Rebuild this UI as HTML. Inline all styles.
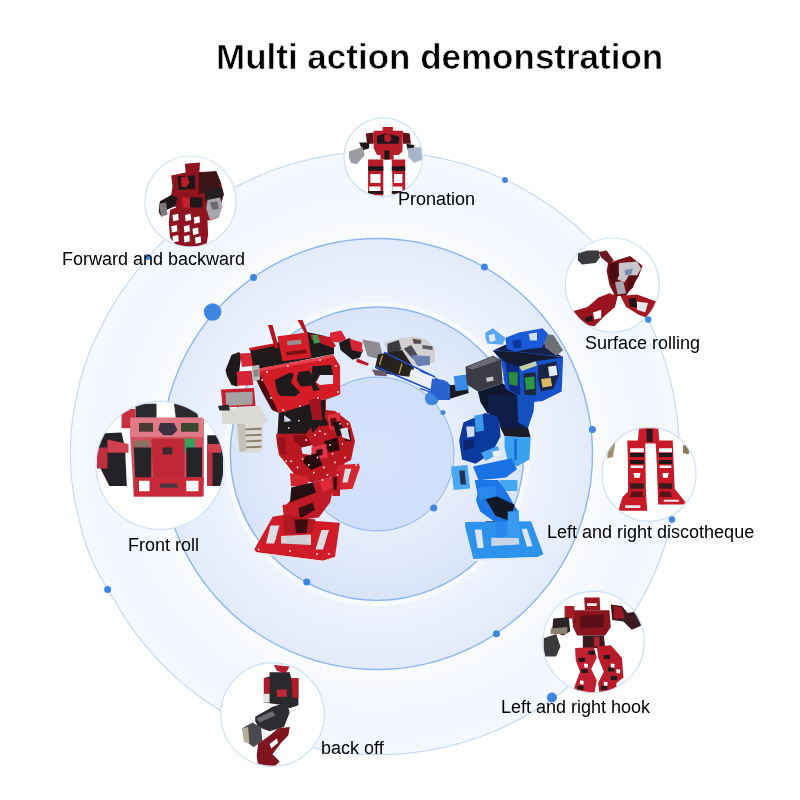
<!DOCTYPE html>
<html><head><meta charset="utf-8">
<style>
html,body{margin:0;padding:0;background:#fff;}
body{width:800px;height:800px;position:relative;overflow:hidden;font-family:"Liberation Sans",sans-serif;}
.t{position:absolute;will-change:transform;white-space:nowrap;color:#000;font-size:18px;line-height:1;}
#title{position:absolute;will-change:transform;-webkit-text-stroke:0.6px #fff;left:216px;top:39px;font-size:35px;font-weight:700;white-space:nowrap;line-height:1;color:#000;}
svg{position:absolute;left:0;top:0;}
</style></head><body>
<svg width="800" height="800" viewBox="0 0 800 800">
<defs>
<radialGradient id="g0" cx="377.65" cy="453.1" r="301.6" gradientUnits="userSpaceOnUse">
<stop offset="0.71" stop-color="#fbfcff"/><stop offset="0.80" stop-color="#f4f7fe"/><stop offset="0.92" stop-color="#f2f6fd"/><stop offset="1" stop-color="#f5f8fe"/>
</radialGradient>
<radialGradient id="g2" cx="377" cy="454" r="215" gradientUnits="userSpaceOnUse">
<stop offset="0.68" stop-color="#eff4fd"/><stop offset="1" stop-color="#e3ebfb"/>
</radialGradient>
<radialGradient id="g3" cx="377" cy="454" r="146" gradientUnits="userSpaceOnUse">
<stop offset="0.53" stop-color="#e6eefb"/><stop offset="1" stop-color="#d9e4fa"/>
</radialGradient>
<radialGradient id="g4" cx="377" cy="454" r="78" gradientUnits="userSpaceOnUse">
<stop offset="0" stop-color="#d6e3fb"/><stop offset="1" stop-color="#d0dffa"/>
</radialGradient>
</defs>
<path d="M679.25,453.10 L679.20,458.36 L679.07,463.63 L678.84,468.88 L678.52,474.14 L678.10,479.39 L677.60,484.63 L677.00,489.86 L676.31,495.07 L675.54,500.28 L674.67,505.47 L673.71,510.65 L672.66,515.81 L671.52,520.95 L670.29,526.06 L668.97,531.16 L667.57,536.23 L666.07,541.28 L664.49,546.30 L662.82,551.29 L661.06,556.25 L659.22,561.18 L657.29,566.08 L655.27,570.94 L653.18,575.77 L650.99,580.56 L648.73,585.31 L646.38,590.02 L643.95,594.69 L641.44,599.32 L638.84,603.90 L636.17,608.44 L633.42,612.92 L630.59,617.36 L627.69,621.75 L624.71,626.09 L621.65,630.38 L618.52,634.61 L615.31,638.78 L612.04,642.90 L608.69,646.96 L605.27,650.97 L601.78,654.91 L598.23,658.79 L594.60,662.61 L590.91,666.36 L587.16,670.05 L583.34,673.68 L579.46,677.23 L575.52,680.72 L571.51,684.14 L567.45,687.49 L563.33,690.76 L559.16,693.97 L554.93,697.10 L550.64,700.16 L546.30,703.14 L541.91,706.04 L537.47,708.87 L532.99,711.62 L528.45,714.29 L523.87,716.89 L519.24,719.40 L514.57,721.83 L509.86,724.18 L505.11,726.44 L500.32,728.63 L495.49,730.72 L490.63,732.74 L485.73,734.67 L480.80,736.51 L475.84,738.27 L470.85,739.94 L465.83,741.52 L460.78,743.02 L455.71,744.42 L450.61,745.74 L445.50,746.97 L440.36,748.11 L435.20,749.16 L430.02,750.12 L424.83,750.99 L419.62,751.76 L414.41,752.45 L409.18,753.05 L403.94,753.55 L398.69,753.97 L393.43,754.29 L388.18,754.52 L382.91,754.65 L377.65,754.70 L372.39,754.65 L367.12,754.52 L361.87,754.29 L356.61,753.97 L351.36,753.55 L346.12,753.05 L340.89,752.45 L335.68,751.76 L330.47,750.99 L325.28,750.12 L320.10,749.16 L314.94,748.11 L309.80,746.97 L304.69,745.74 L299.59,744.42 L294.52,743.02 L289.47,741.52 L284.45,739.94 L279.46,738.27 L274.50,736.51 L269.57,734.67 L264.67,732.74 L259.81,730.72 L254.98,728.63 L250.19,726.44 L245.44,724.18 L240.73,721.83 L236.06,719.40 L231.43,716.89 L226.85,714.29 L222.31,711.62 L217.83,708.87 L213.39,706.04 L209.00,703.14 L204.66,700.16 L200.37,697.10 L196.14,693.97 L191.97,690.76 L187.85,687.49 L183.79,684.14 L179.78,680.72 L175.84,677.23 L171.96,673.68 L168.14,670.05 L164.39,666.36 L160.70,662.61 L157.07,658.79 L153.52,654.91 L150.03,650.97 L146.61,646.96 L143.26,642.90 L139.99,638.78 L136.78,634.61 L133.65,630.38 L130.59,626.09 L127.61,621.75 L124.71,617.36 L121.88,612.92 L119.13,608.44 L116.46,603.90 L113.81,599.32 L110.89,594.69 L108.05,590.02 L105.29,585.31 L102.61,580.56 L99.87,575.77 L97.19,570.94 L94.59,566.08 L92.40,561.18 L90.40,556.25 L88.47,551.29 L86.63,546.30 L84.86,541.28 L83.18,536.23 L81.84,531.16 L80.68,526.06 L79.60,520.95 L78.27,515.81 L76.95,510.65 L75.72,505.47 L74.58,500.28 L73.72,495.07 L72.97,489.86 L72.31,484.63 L71.74,479.39 L71.26,474.14 L70.87,468.88 L70.58,463.63 L70.41,458.36 L70.40,453.10 L70.49,447.84 L70.66,442.57 L70.93,437.32 L71.29,432.06 L71.75,426.81 L72.29,421.57 L73.02,416.34 L73.87,411.13 L74.82,405.92 L75.86,400.73 L76.93,395.55 L77.95,390.39 L79.06,385.25 L80.27,380.14 L81.74,375.04 L83.36,369.97 L85.07,364.92 L86.83,359.90 L88.57,354.91 L90.41,349.95 L92.32,345.02 L94.63,340.12 L97.05,335.26 L99.55,330.43 L101.87,325.64 L104.22,320.89 L106.64,316.18 L109.25,311.51 L111.99,306.88 L114.80,302.30 L117.69,297.76 L120.65,293.28 L123.67,288.84 L126.77,284.45 L129.94,280.11 L133.14,275.82 L136.40,271.59 L139.74,267.42 L143.16,263.30 L146.61,259.24 L150.03,255.23 L153.52,251.29 L157.07,247.41 L160.70,243.59 L164.39,239.84 L168.14,236.15 L171.96,232.52 L175.84,228.97 L179.78,225.48 L183.79,222.06 L187.85,218.71 L191.97,215.44 L196.14,212.23 L200.37,209.10 L204.66,206.04 L209.00,203.06 L213.39,200.16 L217.83,197.33 L222.31,194.58 L226.85,191.91 L231.43,189.31 L236.06,186.80 L240.73,184.37 L245.44,182.02 L250.19,179.76 L254.98,177.57 L259.81,175.48 L264.67,173.46 L269.57,171.53 L274.50,169.69 L279.46,167.93 L284.45,166.26 L289.47,164.68 L294.52,163.18 L299.59,161.78 L304.69,160.46 L309.80,159.23 L314.94,158.09 L320.10,157.04 L325.28,156.08 L330.47,155.21 L335.68,154.44 L340.89,153.75 L346.12,153.15 L351.36,152.65 L356.61,152.23 L361.87,151.91 L367.12,151.68 L372.39,151.55 L377.65,151.50 L382.91,151.55 L388.18,151.68 L393.43,151.91 L398.69,152.23 L403.94,152.65 L409.18,153.15 L414.41,153.75 L419.62,154.44 L424.83,155.21 L430.02,156.08 L435.20,157.04 L440.36,158.09 L445.50,159.23 L450.61,160.46 L455.71,161.78 L460.78,163.18 L465.83,164.68 L470.85,166.26 L475.84,167.93 L480.80,169.69 L485.73,171.53 L490.63,173.46 L495.49,175.48 L500.32,177.57 L505.11,179.76 L509.86,182.02 L514.57,184.37 L519.24,186.80 L523.87,189.31 L528.45,191.91 L532.99,194.58 L537.47,197.33 L541.91,200.16 L546.30,203.06 L550.64,206.04 L554.93,209.10 L559.16,212.23 L563.33,215.44 L567.45,218.71 L571.51,222.06 L575.52,225.48 L579.46,228.97 L583.34,232.52 L587.16,236.15 L590.91,239.84 L594.60,243.59 L598.23,247.41 L601.78,251.29 L605.27,255.23 L608.69,259.24 L612.04,263.30 L615.31,267.42 L618.52,271.59 L621.65,275.82 L624.71,280.11 L627.69,284.45 L630.59,288.84 L633.42,293.28 L636.17,297.76 L638.84,302.30 L641.44,306.88 L643.95,311.51 L646.38,316.18 L648.73,320.89 L650.99,325.64 L653.18,330.43 L655.27,335.26 L657.29,340.12 L659.22,345.02 L661.06,349.95 L662.82,354.91 L664.49,359.90 L666.07,364.92 L667.57,369.97 L668.97,375.04 L670.29,380.14 L671.52,385.25 L672.66,390.39 L673.71,395.55 L674.67,400.73 L675.54,405.92 L676.31,411.13 L677.00,416.34 L677.60,421.57 L678.10,426.81 L678.52,432.06 L678.84,437.32 L679.07,442.57 L679.20,447.84Z" fill="url(#g0)" stroke="#c6daf7" stroke-width="1.2"/>
<circle cx="377" cy="454" r="215.5" fill="url(#g2)" stroke="#8cb6f1" stroke-width="1.4"/>
<circle cx="377" cy="453.7" r="150" fill="none" stroke="#ffffff" stroke-width="5" stroke-opacity="0.5"/>
<circle cx="377" cy="453.7" r="146.7" fill="url(#g3)" stroke="#8db6f1" stroke-width="1.4"/>
<circle cx="377" cy="454" r="77" fill="url(#g4)" stroke="#8ab4f0" stroke-width="1"/>
<defs><clipPath id="c1"><circle cx="190.5" cy="201.5" r="45.0"/></clipPath><clipPath id="c2"><circle cx="383.25" cy="157.25" r="38.8"/></clipPath><clipPath id="c3"><circle cx="612.25" cy="285" r="46.5"/></clipPath><clipPath id="c4"><circle cx="649" cy="474.3" r="46.5"/></clipPath><clipPath id="c5"><circle cx="593.6" cy="642" r="50.2"/></clipPath><clipPath id="c6"><circle cx="160" cy="465.4" r="63.5"/></clipPath><clipPath id="c7"><circle cx="272.5" cy="714.6" r="51.2"/></clipPath></defs><circle cx="190.5" cy="201.5" r="45.5" fill="#fff" stroke="#cfe1f7" stroke-width="1.2"/>
<circle cx="383.25" cy="157.25" r="39.3" fill="#fff" stroke="#cfe1f7" stroke-width="1.2"/>
<circle cx="612.25" cy="285" r="47" fill="#fff" stroke="#cfe1f7" stroke-width="1.2"/>
<circle cx="649" cy="474.3" r="47" fill="#fff" stroke="#cfe1f7" stroke-width="1.2"/>
<circle cx="593.6" cy="642" r="50.7" fill="#fff" stroke="#cfe1f7" stroke-width="1.2"/>
<circle cx="160" cy="465.4" r="64" fill="#fff" stroke="#cfe1f7" stroke-width="1.2"/>
<circle cx="272.5" cy="714.6" r="51.7" fill="#fff" stroke="#cfe1f7" stroke-width="1.2"/>
<g clip-path="url(#c1)"><polygon points="185.0,163.8 200.0,162.5 199.4,171.9 216.2,171.2 221.2,183.8 223.8,193.8 220.0,208.8 218.8,217.5 210.0,220.6 207.5,220.0 208.1,235.0 206.2,246.2 177.5,246.9 170.0,237.5 168.8,222.5 170.0,210.0 176.2,207.5 175.0,206.2 167.5,209.4 161.9,216.9 158.8,212.5 159.4,203.8 166.2,198.8 171.2,195.0 172.5,186.2 171.2,175.6 185.6,172.5" fill="#8e1420"/><polygon points="198.8,173.1 216.2,171.2 221.2,183.8 212.5,192.5 198.8,193.8" fill="#3a1418"/><polygon points="177.5,176.2 195.0,175.6 195.0,188.8 178.8,190.0" fill="#1e1618"/><polygon points="181.2,176.9 187.5,176.2 189.4,182.5 186.2,187.5 181.2,186.2" fill="#b81c28"/><polygon points="160.0,201.2 171.2,195.0 177.5,197.5 175.0,206.2 167.5,208.8 161.2,216.2 158.8,210.0" fill="#1e1618"/><polygon points="158.8,203.8 166.2,202.5 167.5,215.0 161.2,216.2" fill="#7a7a7e"/><polygon points="205.0,191.2 221.2,186.2 223.8,195.0 220.0,202.5 210.0,203.8 205.0,200.0" fill="#242022"/><polygon points="207.5,200.0 220.0,197.5 222.5,206.2 218.8,217.5 210.0,220.0 206.2,208.8" fill="#a8a8ac"/><polygon points="210.0,202.5 217.5,201.2 218.8,208.8 212.5,210.0" fill="#6a6a70"/><polygon points="182.5,197.5 190.0,197.5 190.0,207.5 182.5,207.5" fill="#c81e2a"/><polygon points="190.0,197.5 202.5,197.5 202.5,207.5 190.0,207.5" fill="#1e1618"/><polygon points="172.5,215.0 178.1,213.8 178.8,220.0 173.1,221.2" fill="#ffffff"/><polygon points="185.0,215.0 190.6,213.8 191.2,220.0 185.6,221.2" fill="#ffffff"/><polygon points="171.2,226.2 176.9,225.0 177.5,231.2 171.9,232.5" fill="#ffffff"/><polygon points="183.8,226.2 189.4,225.0 190.0,231.2 184.4,232.5" fill="#ffffff"/><polygon points="193.8,217.5 199.4,216.2 200.0,222.5 194.4,223.8" fill="#ffffff"/><polygon points="192.5,228.8 198.1,227.5 198.8,233.8 193.1,235.0" fill="#ffffff"/><polygon points="172.5,236.2 178.1,235.0 178.8,241.2 173.1,242.5" fill="#ffffff"/><polygon points="183.8,236.2 189.4,235.0 190.0,241.2 184.4,242.5" fill="#ffffff"/><polygon points="195.0,237.5 200.6,236.2 201.2,242.5 195.6,243.8" fill="#ffffff"/></g>
<g clip-path="url(#c2)"><polygon points="373.7,130.8 403.0,130.8 402.4,151.6 398.5,155.0 377.1,155.0 373.7,148.2" fill="#b81c28"/><polygon points="382.7,126.9 392.9,126.9 392.9,131.4 382.7,131.4" fill="#b81c28"/><polygon points="377.1,135.9 385.0,133.6 392.9,134.7 399.6,137.0 398.5,143.7 377.1,143.7" fill="#1e1618"/><polygon points="384.4,134.7 390.1,134.2 391.7,139.2 388.4,142.6 384.4,140.4" fill="#b81c28"/><polygon points="365.9,133.6 373.7,132.5 373.7,143.7 367.0,143.7" fill="#5a1218"/><polygon points="403.0,132.5 409.7,133.6 410.9,143.7 403.0,143.7" fill="#5a1218"/><polygon points="359.1,142.6 369.2,142.6 369.2,148.2 362.5,150.5" fill="#1e1618"/><polygon points="406.4,143.7 414.2,144.9 414.2,149.4 407.5,149.4" fill="#1e1618"/><polygon points="349.0,151.6 362.5,147.1 364.7,155.0 356.9,164.0 351.2,162.9 349.0,157.2" fill="#9a9ca2"/><polygon points="407.5,148.2 421.0,147.1 422.7,159.5 414.2,162.9 408.6,157.2" fill="#a8b4c8"/><polygon points="380.5,150.5 392.9,150.5 394.0,159.5 380.5,159.5" fill="#b81c28"/><polygon points="384.4,150.5 389.5,150.5 389.5,159.5 384.4,159.5" fill="#1e1618"/><polygon points="368.1,159.5 383.3,159.5 383.3,195.5 368.1,195.5" fill="#b81c28"/><polygon points="391.7,159.5 405.2,159.5 405.2,193.2 392.9,195.5" fill="#b81c28"/><polygon points="368.1,166.2 383.3,166.2 383.3,170.7 368.1,170.7" fill="#1e1618"/><polygon points="370.4,174.1 380.5,174.1 380.5,183.1 370.4,183.1" fill="#ffffff"/><polygon points="369.2,186.5 380.5,186.5 380.5,191.0 369.2,191.0" fill="#ffffff"/><polygon points="368.1,191.0 383.3,191.0 383.3,193.8 368.1,193.8" fill="#1e1618"/><polygon points="391.7,166.2 405.2,166.2 405.2,170.7 391.7,170.7" fill="#1e1618"/><polygon points="394.0,174.1 402.4,174.1 402.4,183.1 394.0,183.1" fill="#ffffff"/><polygon points="392.9,186.5 402.4,186.5 402.4,191.0 392.9,191.0" fill="#ffffff"/><polygon points="391.7,191.0 405.2,191.0 405.2,193.8 391.7,193.8" fill="#1e1618"/></g>
<g clip-path="url(#c3)"><polygon points="577.9,253.4 587.5,250.6 598.5,250.6 599.9,257.5 595.7,263.0 582.0,264.4 577.9,260.2" fill="#3a3a3e"/><polygon points="598.5,252.0 606.7,250.6 613.6,260.2 609.5,264.4 601.2,257.5" fill="#6a1a20"/><polygon points="608.1,263.0 630.1,256.1 642.5,265.7 638.4,276.7 631.5,287.7 626.0,296.0 615.0,296.0 609.5,285.0 606.7,271.2" fill="#7a1018"/><polygon points="619.1,263.0 637.0,261.6 641.1,268.5 637.0,275.4 628.7,275.4 624.6,282.2 617.7,279.5" fill="#c4c4ca"/><polygon points="615.0,282.2 623.2,280.9 626.0,293.2 617.7,294.6" fill="#a8a8b0"/><polygon points="624.6,269.9 632.9,268.5 631.5,274.0 625.3,275.4" fill="#7c8cb0"/><polygon points="609.5,264.4 617.7,261.6 619.1,275.4 612.2,285.0 608.8,274.0" fill="#4a0c12"/><polygon points="628.7,275.4 637.0,275.4 632.9,287.7 626.0,293.2" fill="#5a0e14"/><polygon points="573.7,311.1 587.5,307.0 598.5,297.4 609.5,293.2 617.7,296.0 615.0,307.0 605.4,315.2 594.4,326.2 584.7,324.9 575.1,318.0" fill="#9a1420"/><polygon points="593.0,312.5 601.2,309.7 601.2,318.0 594.4,319.4" fill="#ffffff"/><polygon points="584.7,318.0 591.6,315.2 593.0,320.7 586.1,322.1" fill="#1e1618"/><polygon points="620.5,296.0 637.0,294.6 656.2,301.5 654.9,309.7 648.0,318.0 639.7,315.2 626.0,307.0" fill="#a41822"/><polygon points="637.0,301.5 648.0,302.9 645.2,312.5 637.0,309.7" fill="#e8e8ea"/><polygon points="628.7,298.7 635.6,297.4 637.0,307.0 630.1,307.0" fill="#1e1618"/></g>
<g clip-path="url(#c4)"><polygon points="639.0,428.2 658.2,428.2 659.6,443.4 637.6,443.4" fill="#d01c28"/><polygon points="646.6,428.9 652.7,428.9 652.7,442.0 646.6,442.0" fill="#2a1a1c"/><polygon points="627.3,440.6 645.2,440.6 645.9,491.5 647.2,510.7 618.4,510.7 622.5,497.0 628.0,491.5 628.0,465.4" fill="#c81a26"/><polygon points="655.5,440.6 672.7,440.6 674.7,488.7 685.7,502.5 683.0,504.6 658.2,504.6 657.6,488.7 656.9,465.4" fill="#c81a26"/><polygon points="630.1,448.2 643.8,448.2 643.8,452.3 630.1,452.3" fill="#ffffff"/><polygon points="630.1,453.0 643.8,453.0 643.8,457.1 630.1,457.1" fill="#1e1618"/><polygon points="630.1,459.9 643.8,459.9 643.8,464.0 630.1,464.0" fill="#1e1618"/><polygon points="630.7,465.4 643.1,465.4 643.1,468.1 630.7,468.1" fill="#ffffff"/><polygon points="633.5,472.9 640.4,472.9 639.7,477.7 634.2,477.7" fill="#ffffff"/><polygon points="630.1,483.2 643.8,483.2 643.8,488.7 630.1,488.7" fill="#3a1a1c"/><polygon points="631.4,491.5 642.4,491.5 643.8,497.0 630.1,497.0" fill="#5a1418"/><polygon points="658.9,448.2 672.0,448.2 672.0,452.3 658.9,452.3" fill="#ffffff"/><polygon points="658.9,453.0 672.0,453.0 672.0,457.1 658.9,457.1" fill="#1e1618"/><polygon points="658.9,459.9 672.0,459.9 672.0,464.0 658.9,464.0" fill="#1e1618"/><polygon points="659.6,465.4 671.3,465.4 671.3,468.1 659.6,468.1" fill="#ffffff"/><polygon points="662.4,472.9 668.6,472.9 667.9,477.7 663.1,477.7" fill="#ffffff"/><polygon points="658.9,483.2 672.0,483.2 672.0,488.7 658.9,488.7" fill="#3a1a1c"/><polygon points="660.3,491.5 670.6,491.5 672.0,497.0 658.9,497.0" fill="#5a1418"/><polygon points="625.2,505.2 640.4,505.2 640.4,508.0 625.2,508.0" fill="#e8e8ea"/><polygon points="663.7,499.7 678.9,499.7 678.9,501.8 663.7,501.8" fill="#e8e8ea"/><polygon points="607.4,442.0 615.6,440.6 612.9,457.1 607.4,458.5" fill="#a09070"/><polygon points="683.0,444.7 689.9,447.5 688.5,454.4 683.0,453.0" fill="#8a7a60"/></g>
<g clip-path="url(#c5)"><polygon points="584.2,597.6 599.6,597.6 600.3,610.2 584.9,610.2" fill="#9a1822"/><polygon points="587.0,603.2 596.8,603.2 596.8,606.0 587.0,606.0" fill="#f0e8e8"/><polygon points="571.6,610.2 609.4,610.2 610.8,627.0 605.2,635.4 577.2,635.4 573.0,627.0" fill="#8a1420"/><polygon points="580.0,615.8 603.8,614.4 603.8,627.0 580.0,628.4" fill="#5a0e16"/><polygon points="564.6,606.0 574.4,606.0 574.4,618.6 564.6,618.6" fill="#a81c26"/><polygon points="553.4,618.6 568.8,617.2 570.2,631.2 563.2,635.4 552.0,631.2" fill="#2a2224"/><polygon points="543.6,638.2 556.2,634.0 560.4,646.6 556.2,656.4 543.6,656.4" fill="#3a3a3c"/><polygon points="550.6,628.4 567.4,627.0 567.4,634.0 550.6,634.0" fill="#8a8270"/><polygon points="610.8,604.6 622.0,606.0 627.6,613.0 636.0,611.6 641.6,625.6 631.8,629.8 623.4,621.4 612.2,620.0" fill="#3a1a1e"/><polygon points="613.6,606.0 622.0,607.4 624.8,618.6 613.6,618.6" fill="#9a1822"/><polygon points="582.8,635.4 603.8,635.4 605.2,648.0 582.8,648.0" fill="#3a1a1e"/><polygon points="594.0,636.8 599.6,636.8 599.6,646.6 594.0,646.6" fill="#b02030"/><polygon points="575.1,648.0 594.0,647.3 596.8,657.8 591.2,669.0 596.8,680.2 594.0,695.6 571.6,695.6 575.8,683.0 580.0,671.8 575.8,660.6" fill="#c02030"/><polygon points="596.8,646.6 610.8,645.2 622.0,657.8 623.4,677.4 616.4,683.0 616.4,695.6 599.6,695.6 598.2,683.0 603.8,671.8 598.2,657.8" fill="#b81c2a"/><polygon points="578.6,657.8 584.9,657.8 584.9,661.7 578.6,661.7" fill="#1e1618"/><polygon points="603.8,655.0 610.1,655.0 610.1,658.9 603.8,658.9" fill="#1e1618"/><polygon points="581.4,669.0 587.7,669.0 587.7,672.9 581.4,672.9" fill="#1e1618"/><polygon points="608.0,667.6 614.3,667.6 614.3,671.5 608.0,671.5" fill="#1e1618"/><polygon points="610.8,676.0 617.1,676.0 617.1,679.9 610.8,679.9" fill="#1e1618"/><polygon points="577.2,685.8 583.5,685.8 583.5,689.7 577.2,689.7" fill="#1e1618"/><polygon points="601.0,685.8 607.3,685.8 607.3,689.7 601.0,689.7" fill="#1e1618"/><polygon points="588.4,650.8 594.7,650.8 594.7,654.7 588.4,654.7" fill="#1e1618"/><polygon points="584.2,663.4 588.1,664.1 587.6,667.9 584.2,667.3" fill="#ffffff"/><polygon points="610.8,663.4 614.7,664.1 614.2,667.9 610.8,667.3" fill="#ffffff"/><polygon points="580.0,680.2 583.9,680.9 583.4,684.7 580.0,684.1" fill="#ffffff"/><polygon points="603.8,681.6 607.7,682.3 607.2,686.1 603.8,685.5" fill="#ffffff"/><polygon points="616.4,669.0 620.3,669.7 619.8,673.5 616.4,672.9" fill="#ffffff"/></g>
<g clip-path="url(#c6)"><polygon points="135.5,403.8 156.5,403.8 156.5,417.8 135.5,417.8" fill="#2a2a2e"/><polygon points="174.0,403.8 195.0,405.5 198.5,417.8 175.8,417.8" fill="#2a2a2e"/><polygon points="121.5,409.0 135.5,409.0 135.5,428.3 121.5,428.3" fill="#c83040"/><polygon points="100.5,433.5 121.5,432.6 125.0,447.5 126.8,486.0 109.3,486.0 100.5,468.5 98.8,447.5" fill="#242226"/><polygon points="107.5,439.6 128.5,444.0 128.5,452.8 107.5,452.8" fill="#d04050"/><polygon points="97.0,447.5 107.5,447.5 107.5,468.5 97.0,468.5" fill="#c03040"/><polygon points="207.3,435.3 216.0,435.3 223.0,447.5 223.0,486.0 207.3,486.0" fill="#242226"/><polygon points="207.3,444.0 221.3,444.0 221.3,452.8 207.3,452.8" fill="#d04050"/><polygon points="207.3,452.8 212.5,452.8 212.5,486.0 207.3,486.0" fill="#c03040"/><polygon points="130.3,417.8 203.8,417.8 203.8,496.5 133.8,496.5 130.3,437.0" fill="#d4505e"/><polygon points="130.3,417.8 203.8,417.8 203.8,437.0 130.3,437.0" fill="#e07a86"/><polygon points="139.0,423.0 153.0,423.0 153.0,431.8 139.0,431.8" fill="#4a3a30"/><polygon points="160.0,423.0 174.0,423.0 177.5,430.0 172.3,435.3 163.5,435.3 158.3,430.0" fill="#3a3040"/><polygon points="181.0,423.0 198.5,423.0 198.5,431.8 181.0,431.8" fill="#3a4a30"/><polygon points="133.8,440.5 149.5,440.5 149.5,447.5 133.8,447.5" fill="#8a7060"/><polygon points="179.3,438.8 195.0,438.8 195.0,452.8 179.3,452.8" fill="#3aa060"/><polygon points="133.8,447.5 151.3,447.5 151.3,487.8 135.5,487.8" fill="#26242a"/><polygon points="186.3,447.5 202.0,447.5 202.0,477.3 186.3,477.3" fill="#26242a"/><polygon points="151.3,438.8 184.5,438.8 184.5,479.0 153.0,479.0" fill="#c02838"/><polygon points="162.6,447.5 172.3,447.5 172.3,454.5 162.6,454.5" fill="#3a2a2e"/><polygon points="133.8,477.3 203.8,477.3 202.0,496.5 133.8,496.5" fill="#c82a3a"/><polygon points="139.0,480.8 149.5,480.8 149.5,491.3 139.0,491.3" fill="#ffffff"/><polygon points="186.3,480.8 198.5,480.8 198.5,491.3 186.3,491.3" fill="#ffffff"/><polygon points="160.0,483.4 177.5,483.4 177.5,487.8 160.0,487.8" fill="#4a3a40"/></g>
<g clip-path="url(#c7)"><polygon points="273.9,665.1 289.7,666.5 285.4,673.7 276.8,670.8" fill="#b82030"/><polygon points="263.9,678.0 269.6,676.6 269.6,672.2 289.7,672.2 291.2,678.0 298.4,678.0 298.4,705.3 289.7,708.2 284.0,705.3 263.9,702.4" fill="#2a2a2e"/><polygon points="263.9,678.0 269.6,678.0 269.6,693.8 263.9,693.8" fill="#b01c28"/><polygon points="291.2,678.0 298.4,678.0 298.4,698.1 292.6,698.1" fill="#b01c28"/><polygon points="276.8,689.5 286.9,689.5 286.9,696.7 276.8,696.7" fill="#c02838"/><polygon points="263.9,693.8 269.6,693.8 269.6,702.4 263.9,702.4" fill="#e8e4e4"/><polygon points="255.2,716.8 265.3,711.1 272.5,706.7 286.9,702.4 289.7,712.5 284.0,726.9 269.6,731.2 258.1,726.9 255.2,721.1" fill="#2e2e32"/><polygon points="256.7,718.2 272.5,711.1 275.4,715.4 259.6,722.6" fill="#6a6a70"/><polygon points="242.3,728.3 252.4,722.6 261.0,726.9 262.4,741.2 253.8,747.0 245.2,741.2" fill="#4a4a4e"/><polygon points="242.3,728.3 248.1,726.9 249.5,744.1 243.7,741.2" fill="#b4ac9c"/><polygon points="258.1,744.1 269.6,735.5 278.2,728.3 289.7,726.9 288.3,735.5 281.1,742.7 272.5,754.2 279.7,761.4 275.4,765.7 258.1,765.7 256.7,755.6" fill="#7e1420"/><polygon points="269.6,744.1 276.8,738.4 278.2,742.7 271.1,748.4" fill="#ffffff"/></g>
<g fill="#3f86e2"><circle cx="505" cy="180" r="3"/><circle cx="648.25" cy="319.5" r="3.2"/><circle cx="672" cy="519.5" r="3.2"/><circle cx="551.9" cy="697.5" r="5"/><circle cx="107.6" cy="589.5" r="3.5"/><circle cx="147.75" cy="257" r="3"/><circle cx="253.5" cy="277.5" r="3.5"/><circle cx="212.6" cy="312" r="8.7"/><circle cx="484.4" cy="267" r="3.5"/><circle cx="592.4" cy="429.4" r="3.5"/><circle cx="496.4" cy="633.75" r="3.5"/><circle cx="306.75" cy="582" r="3.5"/><circle cx="431.9" cy="398.25" r="7"/><circle cx="443" cy="412.5" r="2.5"/><circle cx="433.75" cy="508.1" r="3.5"/></g>
<line x1="420.0" y1="370.6" x2="442.5" y2="381.9" stroke="#2a5ad0" stroke-width="1.4"/>
<line x1="420.0" y1="388.4" x2="438.8" y2="395.0" stroke="#2a5ad0" stroke-width="1.4"/>
<polygon points="446.3,385.6 466.9,383.8 468.8,393.1 450.0,398.8" fill="#1a1a22"/>
<polygon points="433.1,380.0 448.1,381.9 448.1,396.9 436.9,398.8 431.3,391.3" fill="#2a6ad8"/>
<polygon points="453.8,376.3 466.9,374.4 468.8,389.4 455.6,391.3" fill="#3a8ae8"/>
<polygon points="477.9,391.5 502.6,383.2 520.5,397.0 519.1,410.7 487.5,413.5 480.6,402.5" fill="#0e1630"/>
<polygon points="505.4,344.7 545.2,343.4 556.2,353.0 563.1,357.1 493.0,350.5" fill="#16204a"/>
<polygon points="493.0,350.2 517.7,351.6 563.1,357.1 561.7,391.5 542.5,401.1 528.7,402.5 520.5,397.0 505.4,388.7 501.2,361.2" fill="#1552cc"/>
<polygon points="493.0,350.9 517.7,351.9 562.4,357.4 535.6,361.2 519.1,366.7 505.4,362.6" fill="#141a30"/>
<polygon points="505.4,362.6 519.1,366.7 520.5,396.3 509.5,390.1" fill="#0c2a80"/>
<polygon points="508.1,372.2 517.7,372.2 517.7,386.0 509.5,384.6" fill="#2a8a40"/>
<polygon points="519.1,366.7 535.6,361.2 537.0,365.4 521.9,370.9" fill="#c8d0a8"/>
<polygon points="523.2,373.6 535.6,372.2 536.3,395.6 524.6,395.6" fill="#1a2a40"/>
<polygon points="524.6,377.7 534.2,376.4 534.9,388.7 526.0,390.1" fill="#2a9a48"/>
<polygon points="538.4,365.4 556.2,361.2 559.0,375.0 553.5,388.7 541.1,391.5 537.7,379.1" fill="#1a2444"/>
<polygon points="541.1,379.1 550.7,377.7 552.1,386.0 542.5,387.4" fill="#d8b860"/>
<polygon points="548.0,366.7 556.2,365.4 557.6,375.0 549.4,376.4" fill="#e4eaf6"/>
<polygon points="542.5,333.7 553.5,335.1 563.1,350.2 556.2,355.7 545.2,347.5" fill="#6e6e76"/>
<polygon points="505.4,337.9 519.1,332.4 542.5,328.2 548.0,333.7 542.5,347.5 528.7,348.9 515.0,351.6 506.7,348.9" fill="#1a5ad8"/>
<polygon points="528.7,333.7 537.0,332.4 537.0,340.6 530.1,340.6" fill="#cfe0f6"/>
<polygon points="512.2,340.6 520.5,339.2 521.9,347.5 513.6,348.9" fill="#0c3a9a"/>
<polygon points="485.4,332.4 493.0,328.2 505.4,337.9 502.6,344.7 487.5,343.4 485.4,337.9" fill="#5aa8f0"/>
<polygon points="488.9,335.1 494.4,333.7 495.7,340.6 489.6,342.0" fill="#e0e8f4"/>
<polygon points="465.5,366.7 493.0,355.7 501.2,359.9 502.6,383.2 477.9,391.5 466.9,384.6" fill="#3c3c44"/>
<polygon points="466.2,367.4 492.3,356.4 499.9,359.9 472.4,369.5" fill="#6a6a74"/>
<polygon points="486.1,377.7 493.0,376.4 493.7,380.5 486.8,381.9" fill="#c8c8d0"/>
<polygon points="487.5,405.2 520.5,402.5 519.1,416.2 490.2,419.0" fill="#10244a"/>
<polygon points="499.5,480.0 517.4,480.0 517.4,491.0 502.2,491.0" fill="#46a6ee"/>
<polygon points="459.2,440.4 463.4,422.5 485.4,412.9 499.1,417.0 500.5,436.2 492.2,452.7 475.7,463.7 462.0,459.6" fill="#0c3a9c"/>
<polygon points="466.1,426.6 474.4,426.6 474.4,436.2 467.5,437.6" fill="#cfdcf2"/>
<polygon points="463.4,440.4 473.0,439.0 474.4,447.2 464.7,450.0" fill="#0a2470"/>
<polygon points="474.4,415.6 482.6,414.2 484.0,430.7 475.7,432.1" fill="#3a9ae8"/>
<polygon points="488.1,395.0 517.0,395.0 517.0,411.5 528.0,428.0 500.5,428.0 497.7,417.0 488.1,411.5" fill="#0e1e48"/>
<polygon points="517.0,395.0 534.9,395.0 533.5,411.5 528.0,428.0 518.4,422.5" fill="#1450c0"/>
<polygon points="500.5,428.0 528.0,428.0 530.7,437.6 504.6,436.2" fill="#1a1c26"/>
<polygon points="504.6,436.2 530.7,437.6 529.4,459.6 517.0,466.5 507.4,459.6 504.6,447.2" fill="#3aa0ee"/>
<polygon points="514.2,439.0 517.0,439.0 517.0,459.6 514.2,461.0" fill="#1a70d8"/>
<polygon points="481.2,452.7 497.7,445.9 500.5,452.7 485.4,461.0" fill="#44a4f0"/>
<polygon points="492.2,451.4 500.5,450.0 501.9,455.5 493.6,456.9" fill="#e6eef8"/>
<polygon points="451.0,466.5 467.5,465.1 470.2,488.5 453.7,489.9" fill="#4aa8f0"/>
<polygon points="459.2,470.6 464.7,470.6 466.1,484.4 460.6,484.4" fill="#22345a"/>
<polygon points="473.0,466.5 511.5,458.2 517.0,469.2 506.0,477.5 478.5,480.2" fill="#1a72e4"/>
<polygon points="474.7,480.0 498.1,480.0 507.7,493.7 514.6,506.1 518.7,511.6 505.0,525.4 495.4,522.6 480.2,511.6 476.1,500.6 477.5,493.7" fill="#1c76e8"/>
<polygon points="485.7,499.2 496.7,496.5 514.6,504.7 510.5,521.2 495.4,515.7" fill="#121826"/>
<polygon points="477.5,488.2 495.4,485.5 496.7,495.1 480.2,500.6" fill="#2a88ee"/>
<polygon points="485.7,521.2 495.4,521.2 496.7,537.7 488.5,539.1" fill="#161a26"/>
<polygon points="465.1,521.9 531.1,521.2 543.5,554.2 538.0,557.0 473.4,559.1 465.1,526.7" fill="#2c92ec"/>
<polygon points="473.4,559.1 538.0,557.0 543.5,554.2 543.5,556.3 538.0,559.1 473.4,561.1" fill="#e4ecf6"/>
<polygon points="474.7,529.5 481.6,529.5 483.7,548.1 477.5,548.1" fill="#dde6f4"/>
<polygon points="521.5,528.8 527.0,528.8 532.5,546.0 527.0,546.7" fill="#dde6f4"/>
<polygon points="491.2,537.7 518.7,537.7 519.4,544.6 491.2,546.0" fill="#c8d4e8"/>
<polygon points="495.4,522.6 506.4,521.2 505.7,537.1 496.7,537.7" fill="#2a86ea"/>
<polygon points="507.7,511.6 518.7,510.9 520.1,537.7 507.7,537.7" fill="#3a9af0"/>
<polygon points="384.0,342.5 400.5,338.0 414.0,336.5 426.0,339.5 435.0,348.5 435.0,362.0 426.0,365.0 414.0,365.0 402.0,357.5 387.0,351.5" fill="#d2d0d0"/>
<polygon points="387.5,343.8 398.8,340.0 401.2,348.8 395.0,355.0 387.5,353.8" fill="#3a3a40"/>
<polygon points="412.5,338.8 421.2,340.0 421.2,343.8 413.8,343.8" fill="#5a4a50"/>
<polygon points="403.8,348.8 411.2,345.0 417.5,355.0 412.5,358.8" fill="#4a4a54"/>
<polygon points="411.2,355.0 430.0,356.2 430.0,365.0 417.5,366.2" fill="#6a80b0"/>
<polygon points="422.5,345.0 432.5,346.2 432.5,350.0 422.5,348.8" fill="#5a5a60"/>
<polygon points="362.2,339.5 379.5,342.5 384.0,360.5 367.5,356.0" fill="#8e8c90"/>
<polygon points="378.0,354.5 402.0,350.0 414.0,368.0 411.0,377.0 387.0,374.0 375.0,368.0" fill="#26201e"/>
<line x1="382.5" y1="355.2" x2="379.5" y2="365.0" stroke="#c8a850" stroke-width="1.2"/>
<line x1="402.0" y1="363.5" x2="399.0" y2="374.0" stroke="#c8a850" stroke-width="1.2"/>
<line x1="413.2" y1="368.7" x2="410.2" y2="378.5" stroke="#c8a850" stroke-width="1.2"/>
<polygon points="339.0,342.5 349.5,338.0 363.0,350.0 360.0,357.5 352.5,359.7 340.5,350.0" fill="#1e1a1c"/>
<polygon points="330.0,332.7 341.2,330.5 346.5,339.5 337.5,342.5 330.0,341.0" fill="#d82434"/>
<polygon points="349.5,338.7 362.2,342.5 362.2,352.2 351.7,350.0" fill="#d82636"/>
<polygon points="357.0,358.2 369.0,363.5 367.5,365.7 356.2,362.0" fill="#c01c28"/>
<polygon points="372.0,369.5 385.5,371.0 387.0,376.2 375.0,375.5" fill="#6a5a68"/>
<polygon points="411.0,369.5 435.0,377.0 432.0,389.0 408.0,381.5" fill="#eef0f8"/>
<line x1="384.0" y1="352.2" x2="435.0" y2="377.0" stroke="#2050c8" stroke-width="1.4"/>
<line x1="375.0" y1="366.5" x2="432.0" y2="390.5" stroke="#2050c8" stroke-width="1.4"/>
<polygon points="432.0,378.5 444.0,380.0 450.0,384.5 450.0,399.9 438.0,399.9 430.5,390.5" fill="#2a62d0"/>
<polygon points="225.5,370.0 231.5,355.0 239.0,352.0 241.2,355.0 237.5,386.5 231.5,385.0 227.0,376.0" fill="#1e1a1c"/>
<polygon points="239.7,353.5 254.0,352.7 256.2,365.5 242.0,367.0" fill="#d8283a"/>
<polygon points="252.5,367.0 260.0,365.5 260.0,379.0 253.2,380.5" fill="#b8b6b4"/>
<polygon points="236.7,371.5 251.7,370.7 253.2,385.0 237.5,385.7" fill="#d42436"/>
<polygon points="221.0,389.5 254.0,388.0 255.5,406.0 222.5,407.5" fill="#c8202e"/>
<polygon points="225.5,392.5 252.5,391.7 252.5,404.5 226.2,406.0" fill="#a4a2a4"/>
<polygon points="221.7,409.0 236.0,408.2 260.0,406.0 267.5,421.0 263.0,424.0 263.0,449.5 258.5,452.5 239.0,452.5 236.0,424.0 222.5,424.0" fill="#dcdad4"/>
<polygon points="218.0,406.0 228.5,404.5 230.0,410.5 219.5,410.5" fill="#2a2a2e"/>
<polygon points="243.5,428.5 261.5,427.7 261.5,429.7 243.5,430.3" fill="#8a8070"/>
<polygon points="243.5,434.5 261.5,433.7 261.5,435.7 243.5,436.3" fill="#8a8070"/>
<polygon points="243.5,440.5 261.5,439.7 261.5,441.7 243.5,442.3" fill="#8a8070"/>
<polygon points="243.5,446.5 261.5,445.7 261.5,447.7 243.5,448.3" fill="#8a8070"/>
<polygon points="237.5,424.0 245.0,424.0 246.5,451.0 239.7,451.7" fill="#c4c0b8"/>
<polygon points="270,400 326,400 326,410 335,411 350,422.5 355,441 351,460 345,463 338,470 330,477.5 312.5,482.5 302,480 294,474 284,461 279,455 277,444 276,435 280,430 279,412" fill="#bc1822"/>
<polygon points="278.8,412.5 311.2,407.5 312.5,425.0 306.2,433.8 277.5,433.8" fill="#1e1a1c"/>
<polygon points="283.8,411.2 291.2,411.2 290.6,421.2 284.4,421.9" fill="#cfd6e6"/>
<polygon points="301.2,447.5 312.5,445.0 311.2,455.0 302.5,453.8" fill="#dde6f6"/>
<polygon points="317.5,418.8 325.0,417.5 328.8,425.0 320.0,426.2" fill="#1e1a1c"/>
<polygon points="323.8,441.2 337.5,437.5 340.0,450.0 328.8,452.5" fill="#2a0a0e"/>
<polygon points="327.5,415.0 340.0,412.5 341.2,427.5 330.0,430.0" fill="#e03040"/>
<polygon points="330.0,418.8 336.2,417.5 336.9,425.0 331.2,426.2" fill="#5a0c12"/>
<polygon points="311.2,447.5 326.2,443.8 327.5,457.5 313.8,460.0" fill="#e23444"/>
<polygon points="316.2,450.0 322.5,448.8 322.5,455.0 316.9,456.2" fill="#3a0a10"/>
<polygon points="307.5,415.0 317.5,412.5 320.0,425.0 312.5,432.5" fill="#1e1a1c"/>
<polygon points="292.5,435.0 306.2,435.0 311.2,445.0 301.2,447.5 295.0,441.2" fill="#8a0e16"/>
<polygon points="305.0,456.2 317.5,453.1 322.5,465.0 311.2,470.0 303.1,462.5" fill="#2a0a0e"/>
<polygon points="332.5,422.5 340.0,421.2 345.0,432.5 337.5,437.5" fill="#1e1012"/>
<polygon points="343.1,431.2 350.0,430.0 351.2,441.2 345.0,441.2" fill="#3a0a10"/>
<polygon points="277.5,437.5 285.0,437.5 286.2,455.0 280.0,455.0" fill="#9a121c"/>
<polygon points="340.0,428.8 347.5,427.5 350.0,440.0 342.5,437.5" fill="#d8dfee"/>
<polygon points="290,473 308,477 308,486.5 291,486.5" fill="#d42430"/>
<polygon points="291,486.5 308,486.5 308,488 291,488" fill="#e4e4ea"/>
<polygon points="337.5,465 358.75,463.75 360,467.5 352.5,488.75 337.5,490" fill="#d42430"/>
<polygon points="345,468.75 351.25,468.75 347.5,482.5 342.5,482.5" fill="#dcdde4"/>
<polygon points="330,471 340,471 340,496 332.5,496" fill="#c01a26"/>
<polygon points="333.5,477 337,477 336.5,490 333.5,490" fill="#3a0a10"/>
<polygon points="283.75,507.5 297.5,492.5 312.5,482.5 330,477.5 333.75,487.5 330,502.5 318.75,517.5 297.5,520" fill="#c01a26"/>
<polygon points="291.2,487.5 312.5,482.5 316.2,492.5 290.0,502.5" fill="#241012"/>
<polygon points="293.8,510.0 312.5,502.5 315.0,510.0 297.5,520.0" fill="#3a0c12"/>
<polygon points="320.0,481.2 330.0,478.8 332.5,487.5 322.5,492.5" fill="#e02a38"/>
<polygon points="282.5,505 298,503 300,521 284,519" fill="#c81c28"/>
<polygon points="272.7,516.8 283.2,515.0 315.5,521.0 339.8,522.8 335.0,557.0 323.0,560.7 256.2,552.2 254.3,549.2" fill="#d01c28"/>
<polygon points="256.2,552.2 323.0,560.7 335.0,557.0 334.7,559.2 323.0,562.2 255.8,553.4" fill="#e8e8ea"/>
<polygon points="270.5,525.5 279.5,525.5 274.2,543.5 266.0,543.5" fill="#dcdce2"/>
<polygon points="321.5,530.0 329.0,530.0 323.0,549.5 315.5,549.5" fill="#dcdce2"/>
<polygon points="281.0,536.0 311.0,534.5 311.0,545.0 281.0,543.5" fill="#cfd0d6"/>
<polygon points="283.2,515.0 315.5,519.5 312.5,533.0 284.0,534.5" fill="#b01822"/>
<polygon points="294.5,519.5 308.0,519.5 306.5,533.0 296.0,533.0" fill="#3a0a10"/>
<circle cx="295.0" cy="406.9" r="0.9" fill="#f2e6e6"/>
<circle cx="279.4" cy="411.9" r="0.9" fill="#f2e6e6"/>
<circle cx="307.5" cy="411.9" r="0.9" fill="#f2e6e6"/>
<circle cx="288.8" cy="428.1" r="0.9" fill="#f2e6e6"/>
<circle cx="298.8" cy="420.6" r="0.9" fill="#f2e6e6"/>
<circle cx="320.0" cy="431.2" r="0.9" fill="#f2e6e6"/>
<circle cx="325.0" cy="433.8" r="0.9" fill="#f2e6e6"/>
<circle cx="315.0" cy="435.0" r="0.9" fill="#f2e6e6"/>
<circle cx="306.2" cy="440.0" r="0.9" fill="#f2e6e6"/>
<circle cx="340.0" cy="423.8" r="0.9" fill="#f2e6e6"/>
<circle cx="347.5" cy="423.8" r="0.9" fill="#f2e6e6"/>
<circle cx="342.5" cy="443.8" r="0.9" fill="#f2e6e6"/>
<circle cx="332.5" cy="453.8" r="0.9" fill="#f2e6e6"/>
<circle cx="345.0" cy="457.5" r="0.9" fill="#f2e6e6"/>
<circle cx="335.0" cy="462.5" r="0.9" fill="#f2e6e6"/>
<circle cx="327.5" cy="475.0" r="0.9" fill="#f2e6e6"/>
<circle cx="323.8" cy="467.5" r="0.9" fill="#f2e6e6"/>
<circle cx="286.2" cy="461.2" r="0.9" fill="#f2e6e6"/>
<circle cx="291.2" cy="461.2" r="0.9" fill="#f2e6e6"/>
<circle cx="297.5" cy="467.5" r="0.9" fill="#f2e6e6"/>
<circle cx="308.8" cy="465.0" r="0.9" fill="#f2e6e6"/>
<circle cx="313.8" cy="472.5" r="0.9" fill="#f2e6e6"/>
<circle cx="322.5" cy="480.0" r="0.9" fill="#f2e6e6"/>
<circle cx="337.5" cy="475.0" r="0.9" fill="#f2e6e6"/>
<circle cx="350.0" cy="470.0" r="0.9" fill="#f2e6e6"/>
<circle cx="356.2" cy="465.0" r="0.9" fill="#f2e6e6"/>
<circle cx="302.5" cy="458.8" r="0.9" fill="#f2e6e6"/>
<circle cx="330.0" cy="445.0" r="0.9" fill="#f2e6e6"/>
<circle cx="317.5" cy="457.5" r="0.9" fill="#f2e6e6"/>
<circle cx="258.5" cy="549.5" r="0.9" fill="#f2e6e6"/>
<circle cx="290.0" cy="551.0" r="0.9" fill="#f2e6e6"/>
<circle cx="317.0" cy="554.0" r="0.9" fill="#f2e6e6"/>
<circle cx="329.0" cy="554.0" r="0.9" fill="#f2e6e6"/>
<circle cx="294.5" cy="558.5" r="0.9" fill="#f2e6e6"/>
<circle cx="264.5" cy="554.0" r="0.9" fill="#f2e6e6"/>
<circle cx="275.0" cy="539.0" r="0.9" fill="#f2e6e6"/>
<circle cx="284.0" cy="540.5" r="0.9" fill="#f2e6e6"/>
<circle cx="294.5" cy="537.5" r="0.9" fill="#f2e6e6"/>
<circle cx="308.0" cy="540.5" r="0.9" fill="#f2e6e6"/>
<polygon points="250,349 276,344 282,338 307,332 325,336 334,345 334,354 258,369 252,360" fill="#1e1a1c"/>
<polygon points="249,348 276,343 277,345.5 250,351" fill="#c01824"/>
<polygon points="310,334 330,337 336,346 333,348 312,340" fill="#c01824"/>
<polygon points="268,325 272.5,325 278.75,347.5 275,348.75" fill="#b8141e"/>
<polygon points="297.5,320 302.5,320 307.5,332.5 305,333.75" fill="#b8141e"/>
<polygon points="277.5,336.25 307.5,332.5 311.25,357.5 282.5,361.25" fill="#d41c26"/>
<polygon points="287,341 301,339.5 301.5,344 287.5,345.5" fill="#9a9090"/>
<polygon points="286,352 306,349.5 306.5,353 286.5,355.5" fill="#7a0c14"/>
<polygon points="312.5,335.0 317.5,335.0 320.0,342.5 313.8,343.8" fill="#3aa050"/>
<polygon points="252,360 258,369 279,413 272,410 262,392 254,375" fill="#4a0a10"/>
<polygon points="257.5,368.75 320,357.5 333,354.4 340,366 340.25,394 337.5,395.6 279,413" fill="#d41c26"/>
<polygon points="257.5,368.75 320,357.5 333,354.4 334,357 320,360.5 259,371.5" fill="#e8404c"/>
<polygon points="299,372 309,370.5 314,378.5 310,386 300.5,386.5 296.5,379" fill="#1e1a1c"/>
<polygon points="275,380 290,372.5 293.75,373.75 291.25,382.5 300,392.5 295,396.25 280,396 276.5,390" fill="#1e1a1c"/>
<polygon points="312.5,366.2 331.2,365.0 333.1,375.0 320.0,375.0 315.0,382.5 320.0,390.0 313.8,391.2 310.6,383.8" fill="#1e1a1c"/>
<polygon points="320.0,375.0 333.1,375.0 333.1,383.8 320.0,385.0 316.2,382.5" fill="#dfe6f4"/>
<polygon points="280.6,413.1 337.5,395.6 325.0,400.0 325.0,417.5 291.2,420.0 287.5,417.5" fill="#1e1a1c"/>
<polygon points="308.8,400.0 320.0,397.5 322.5,420.0 312.5,420.0" fill="#a01420"/>
<circle cx="267" cy="372" r="0.9" fill="#f2e6e6"/>
<circle cx="288" cy="366" r="0.9" fill="#f2e6e6"/>
<circle cx="320" cy="360" r="0.9" fill="#f2e6e6"/>
<circle cx="336" cy="366" r="0.9" fill="#f2e6e6"/>
<circle cx="338" cy="392" r="0.9" fill="#f2e6e6"/>
<circle cx="300" cy="406" r="0.9" fill="#f2e6e6"/>
<circle cx="283" cy="410" r="0.9" fill="#f2e6e6"/>
<circle cx="262" cy="380" r="0.9" fill="#f2e6e6"/>
<circle cx="271" cy="398" r="0.9" fill="#f2e6e6"/>
<circle cx="318" cy="398" r="0.9" fill="#f2e6e6"/>
<polygon points="251.7,366.2 259.2,364.7 260.0,379.7 253.2,381.2" fill="#bcbab8"/>
<polygon points="253.2,370.0 258.5,369.2 258.8,376.0 253.7,376.7" fill="#8a8886"/></svg>
<div id="title">Multi action demonstration</div>
<div class="t" style="left:62px;top:250px">Forward and backward</div>
<div class="t" style="left:398px;top:190px">Pronation</div>
<div class="t" style="left:585px;top:334px">Surface rolling</div>
<div class="t" style="left:547px;top:523px">Left and right discotheque</div>
<div class="t" style="left:128px;top:536px">Front roll</div>
<div class="t" style="left:501px;top:698px">Left and right hook</div>
<div class="t" style="left:321px;top:739px">back off</div>
</body></html>
